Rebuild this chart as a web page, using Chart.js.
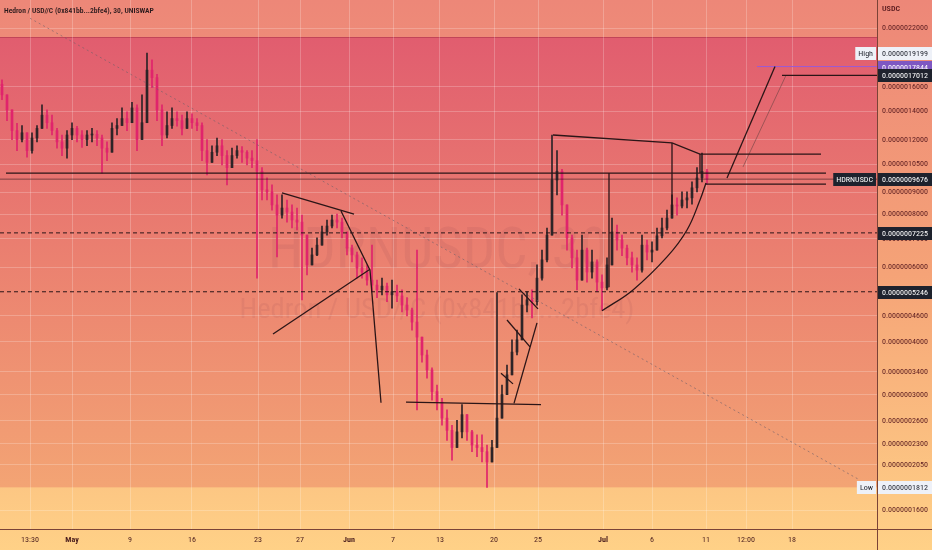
<!DOCTYPE html>
<html>
<head>
<meta charset="utf-8">
<script src="https://cdn.jsdelivr.net/npm/chart.js@4.4.0/dist/chart.umd.min.js"></script>
<style>
  html, body { margin: 0; padding: 0; background: #f5a377; }
  #c { display: block; }
</style>
</head>
<body>
<canvas id="c" width="932" height="550"></canvas>
<script>
// prices are in units of 1e-7 USDC, one candle per slot
const firstOpen = 16.2;
const highs = [
  16.6, 15.3, 13.7, 13.1, 12.95, 12.3, 12.45, 12.95, 14.5, 14.1,
  13.7, 12.75, 12.3, 12.6, 13.15, 12.9, 12.6, 12.6, 12.75, 12.6,
  12.3, 11.85, 13.15, 13.45, 14.25, 13.95, 14.7, 14.5, 15.3, 19.2,
  18.5, 17.1, 14.5, 13.95, 14.25, 13.95, 13.7, 13.95, 13.8, 13.45,
  13.15, 12.0, 11.6, 12.1, 12.0, 11.3, 11.45, 11.6, 11.55, 11.3,
  11.3, 12.0, 10.3, 9.74, 9.38, 8.88, 8.88, 8.64, 8.41, 8.27,
  7.96, 6.95, 6.65, 7.03, 7.50, 7.75, 7.96, 8.0, 7.83, 7.14,
  6.76, 6.51, 6.31, 6.07, 6.76, 5.59, 5.65, 5.50, 5.59, 5.44,
  5.30, 5.08, 4.80, 6.58, 4.04, 3.82, 3.47, 3.16, 2.94, 2.76,
  2.54, 2.61, 2.84, 2.61, 2.47, 2.41, 2.41, 2.28, 2.34, 5.22,
  3.16, 3.52, 4.04, 4.26, 5.16, 5.25, 5.30, 6.07, 6.58, 7.42,
  12.3, 11.3, 10.2, 8.41, 7.14, 6.58, 7.14, 6.65, 6.58, 6.24,
  5.75, 6.31, 7.83, 7.54, 7.14, 6.76, 6.51, 6.31, 7.14, 6.95,
  6.88, 7.42, 7.83, 8.18, 8.88, 8.74, 9.03, 9.03, 9.53, 10.3,
  11.15, 10.2
];
const lows = [
  14.9, 13.3, 12.0, 11.3, 11.85, 10.9, 11.15, 11.85, 12.95, 12.75,
  12.3, 11.45, 11.0, 10.85, 12.0, 11.85, 11.5, 11.6, 11.85, 11.6,
  10.0, 10.7, 11.3, 12.3, 12.95, 12.6, 13.3, 11.3, 12.6, 14.9,
  15.9, 13.3, 11.6, 12.1, 12.75, 12.9, 12.3, 12.75, 12.75, 12.6,
  10.7, 9.9, 10.7, 11.0, 10.45, 9.38, 10.3, 10.85, 10.6, 10.45,
  10.3, 5.65, 8.64, 8.64, 8.18, 6.34, 7.83, 7.66, 7.42, 7.34,
  5.02, 5.75, 6.07, 6.38, 6.76, 7.14, 7.42, 7.42, 7.03, 6.41,
  6.17, 5.65, 5.65, 5.44, 5.25, 5.08, 5.16, 4.97, 4.80, 4.97,
  4.70, 4.60, 4.26, 2.76, 3.58, 3.28, 2.91, 2.76, 2.54, 2.34,
  2.10, 2.28, 2.37, 2.34, 2.20, 2.14, 2.08, 1.812, 2.08, 2.34,
  2.76, 3.05, 3.34, 3.72, 4.10, 4.70, 4.55, 4.88, 5.59, 6.17,
  7.54, 8.88, 7.96, 6.58, 5.97, 5.30, 5.59, 5.53, 5.65, 5.25,
  4.75, 5.30, 6.17, 6.58, 6.38, 6.07, 5.84, 5.59, 5.84, 6.24,
  6.17, 6.65, 7.03, 7.34, 7.96, 7.96, 8.27, 8.27, 8.45, 9.03,
  9.53, 9.43
];
const closes = [
  15.3, 14.1, 12.6, 12.0, 12.45, 11.3, 12.1, 12.75, 13.7, 13.15,
  12.6, 11.85, 11.45, 12.3, 12.75, 12.3, 12.0, 12.3, 12.35, 12.1,
  11.45, 11.2, 12.75, 12.95, 13.45, 13.15, 14.25, 12.0, 13.15, 17.5,
  16.8, 14.1, 12.3, 12.95, 13.45, 13.3, 12.75, 13.45, 13.15, 12.95,
  11.3, 10.6, 11.2, 11.6, 11.0, 10.3, 11.0, 11.3, 11.2, 10.85,
  10.7, 10.1, 9.13, 9.03, 8.41, 7.96, 8.27, 8.09, 7.75, 7.66,
  7.14, 6.07, 6.41, 6.76, 7.26, 7.50, 7.75, 7.66, 7.26, 6.65,
  6.41, 5.97, 5.84, 5.59, 5.44, 5.30, 5.41, 5.16, 5.25, 5.13,
  4.88, 4.75, 4.45, 4.10, 3.72, 3.43, 3.05, 2.88, 2.64, 2.47,
  2.25, 2.45, 2.69, 2.45, 2.28, 2.25, 2.20, 2.08, 2.25, 2.64,
  3.00, 3.34, 3.78, 4.04, 4.88, 5.02, 4.97, 5.65, 6.24, 7.14,
  9.63, 10.1, 8.41, 7.03, 6.31, 5.59, 6.58, 5.84, 6.17, 5.53,
  5.36, 6.07, 7.26, 6.95, 6.65, 6.31, 6.07, 5.90, 6.76, 6.51,
  6.58, 7.11, 7.42, 7.83, 8.41, 8.36, 8.64, 8.74, 9.23, 9.74,
  10.1, 9.676
];

// axis ticks
const timeLabels = ['13:30', 'May', '9', '16', '23', '27', 'Jun', '7', '13', '20', '25', 'Jul', '6', '11', '12:00', '18'];
const timeTickIdx = [5.6, 14.0, 25.6, 38.0, 51.2, 59.6, 69.4, 78.2, 87.6, 98.4, 107.2, 120.2, 130.0, 140.8, 148.8, 158.0];
const priceTicks = [22, 16, 14, 12, 10.5, 9, 8, 7, 6, 4.6, 4, 3.4, 3, 2.6, 2.3, 2.05, 1.6];

// price labels on the axis
const markerValues = [19.199, 17.844, 17.012, 9.676, 7.225, 5.246, 1.812];
const markerTags = ['High', '', '', 'HDRNUSDC', '', '', 'Low'];

// drawn objects, [candle slot, price]
const trendLines = [
  [[0.8, 10.0], [164.8, 10.0]],
  [[110.2, 12.3], [134, 11.78], [139.6, 11.09], [163.8, 11.09]],
  [[134, 11.78], [134, 7.96]],
  [[139.6, 11.09], [139.6, 10.0]],
  [[121.4, 10.0], [121.4, 5.38]],
  [[140.6, 9.42], [164.8, 9.42]],
  [[145, 9.74], [154.6, 17.844]],
  [[56, 8.98], [70.4, 8.0]],
  [[67.8, 8.14], [73.6, 5.90], [75.8, 2.87]],
  [[54.2, 4.17], [73.6, 5.93]],
  [[80.8, 2.88], [107.8, 2.84]],
  [[102.4, 2.86], [107, 4.43]],
  [[101, 4.50], [105.6, 3.89]],
  [[99.8, 3.37], [102.2, 3.18]],
  [[103.4, 5.33], [107.2, 4.78]],
  [[156, 17.012], [175, 17.012]]
];
const thinLine = [[148.2, 10.34], [156.8, 17.012]];
const purpleLine = [[151, 17.844], [175, 17.844]];
const arcLine = [[120, 4.73], [126.2, 5.30], [133, 6.34], [137, 7.34], [139.6, 8.64], [140.8, 9.48]];
const dottedLine = [[5.6, 23.2], [171.6, 1.885]];
const dashedLevels = [7.225, 5.246];
const lastPrice = 9.676;
const zoneTop = 20.95;
const zoneBottom = 1.812;

const NARROW = "'Liberation Sans Narrow', 'Roboto Condensed', 'DejaVu Sans Condensed', sans-serif";
const mctx = document.createElement('canvas').getContext('2d');
function fitSize(text, weight, family, width) {
  mctx.font = weight + ' 20px ' + family;
  return 20 * width / mctx.measureText(text).width;
}
const axisSize = fitSize('0.0000022000', 'normal', NARROW, 46);
const fmt = v => (v * 1e-7).toFixed(10);

const opens = [firstOpen].concat(closes.slice(0, -1));
const upColor = '#2d2427';
const downColor = '#e0246c';
const candleColors = closes.map((c, i) => c >= opens[i] ? upColor : downColor);
const wickData = closes.map((c, i) => ({ x: i, y: [Math.min(lows[i], opens[i], c), Math.max(highs[i], opens[i], c)] }));
const bodyData = closes.map((c, i) => ({ x: i, y: [opens[i], c] }));

function lineDs(pts, color, width, extra) {
  return Object.assign({
    type: 'line',
    data: pts.map(p => ({ x: p[0], y: p[1] })),
    borderColor: color,
    borderWidth: width,
    pointRadius: 0,
    fill: false,
    tension: 0,
    order: 0
  }, extra || {});
}

const datasets = [];
trendLines.forEach(t => datasets.push(lineDs(t, '#2b1517', 1.3)));
datasets.push(lineDs(thinLine, 'rgba(120,70,70,0.65)', 1));
datasets.push(lineDs(purpleLine, '#9b5bd4', 1));
datasets.push(lineDs(arcLine, '#2b1517', 1.3, { tension: 0.4 }));
datasets.push(lineDs(dottedLine, 'rgba(110,95,105,0.6)', 1, { borderDash: [2, 3] }));
dashedLevels.forEach(v => datasets.push(lineDs([[-0.4, v], [175, v]], '#2b1517', 1, { borderDash: [4, 3] })));
datasets.push(lineDs([[-0.4, lastPrice], [175, lastPrice]], 'rgba(40,20,25,0.55)', 1));
datasets.push({
  type: 'bar', data: bodyData, backgroundColor: candleColors, barThickness: 2,
  grouped: false, borderWidth: 0, minBarLength: 1, order: 1
});
datasets.push({
  type: 'bar', data: wickData, backgroundColor: candleColors, barThickness: 1,
  grouped: false, borderWidth: 0, order: 2
});

const bgPlugin = {
  id: 'bg',
  beforeDraw(chart) {
    const { ctx, chartArea: ca, scales: { y } } = chart;
    ctx.save();
    let g = ctx.createLinearGradient(0, 0, 0, 550);
    g.addColorStop(0, '#ed8778');
    g.addColorStop(0.5, '#f5a377');
    g.addColorStop(1, '#ffd187');
    ctx.fillStyle = g;
    ctx.fillRect(0, 0, 932, 550);

    const top = y.getPixelForValue(zoneTop);
    const bot = y.getPixelForValue(zoneBottom);
    g = ctx.createLinearGradient(0, top, 0, bot);
    g.addColorStop(0, '#e15d6f');
    g.addColorStop(0.5, '#eb8170');
    g.addColorStop(1, '#f3a474');
    ctx.fillStyle = g;
    ctx.fillRect(ca.left, top, ca.right - ca.left, bot - top);
    ctx.strokeStyle = 'rgba(170,50,70,0.55)';
    ctx.lineWidth = 1;
    ctx.beginPath();
    ctx.moveTo(ca.left, Math.round(top) + 0.5);
    ctx.lineTo(ca.right, Math.round(top) + 0.5);
    ctx.stroke();

    // watermark
    ctx.fillStyle = 'rgba(90,30,50,0.07)';
    ctx.textAlign = 'center';
    ctx.textBaseline = 'alphabetic';
    const w1 = 'HDRNUSDC, 30';
    ctx.font = fitSize(w1, 'normal', NARROW, 340) + 'px ' + NARROW;
    ctx.fillText(w1, 438, 268);
    const w2 = 'Hedron / USD//C (0x841bb...2bfe4)';
    ctx.font = fitSize(w2, 'normal', NARROW, 395) + 'px ' + NARROW;
    ctx.fillText(w2, 437, 318);
    ctx.restore();
  }
};

const labelPlugin = {
  id: 'labels',
  afterDraw(chart) {
    const { ctx, chartArea: ca, scales: { y } } = chart;
    ctx.save();
    ctx.strokeStyle = '#7a4337';
    ctx.lineWidth = 1;
    ctx.beginPath();
    ctx.moveTo(ca.right + 0.5, 0);
    ctx.lineTo(ca.right + 0.5, 550);
    ctx.moveTo(0, ca.bottom + 0.5);
    ctx.lineTo(932, ca.bottom + 0.5);
    ctx.stroke();

    ctx.textBaseline = 'middle';
    ctx.font = axisSize + 'px ' + NARROW;
    const styles = [
      ['#eef1f8', '#1e222d'], ['#7e57c2', '#ffffff'], ['#1e222d', '#ffffff'],
      ['#1e222d', '#ffffff'], ['#1e222d', '#ffffff'], ['#1e222d', '#ffffff'],
      ['#eef1f8', '#1e222d']
    ];
    markerValues.forEach((v, i) => {
      const py = Math.round(y.getPixelForValue(v));
      const [bg, fg] = styles[i];
      ctx.fillStyle = bg;
      ctx.fillRect(ca.right + 1, py - 6, 932 - ca.right - 1, 13);
      ctx.fillStyle = fg;
      ctx.textAlign = 'left';
      ctx.fillText(fmt(v), ca.right + 5, py + 0.5);
      const tag = markerTags[i];
      if (tag) {
        const tw = ctx.measureText(tag).width + 6;
        ctx.fillStyle = bg;
        ctx.fillRect(ca.right - tw - 1, py - 6, tw, 13);
        ctx.fillStyle = fg;
        ctx.textAlign = 'right';
        ctx.fillText(tag, ca.right - 4, py + 0.5);
      }
    });

    ctx.textAlign = 'left';
    ctx.fillStyle = '#5a1b1f';
    ctx.font = '600 ' + axisSize + 'px ' + NARROW;
    ctx.fillText('USDC', ca.right + 5, 9);

    const title = 'Hedron / USD//C (0x841bb...2bfe4), 30, UNISWAP';
    ctx.fillStyle = '#2a1a1c';
    ctx.font = '600 ' + fitSize(title, '600', NARROW, 150) + 'px ' + NARROW;
    ctx.fillText(title, 4, 11);
    ctx.restore();
  }
};

const gridColor = 'rgba(255,255,255,0.22)';
const ctx = document.getElementById('c').getContext('2d');
const chart = new Chart(ctx, {
  type: 'bar',
  data: { datasets: datasets },
  options: {
    responsive: false,
    animation: false,
    devicePixelRatio: 1,
    events: [],
    layout: { padding: 0 },
    plugins: { legend: { display: false }, tooltip: { enabled: false } },
    scales: {
      x: {
        type: 'linear',
        min: -0.4,
        max: 175,
        offset: false,
        grid: { color: gridColor, drawTicks: false, offset: false },
        border: { display: false },
        ticks: {
          autoSkip: false,
          maxRotation: 0,
          minRotation: 0,
          padding: 6,
          color: '#4a1d1d',
          font: c => ({
            family: NARROW,
            size: axisSize,
            weight: ['May', 'Jun', 'Jul'].includes(timeLabels[c.index]) ? 'bold' : 'normal'
          }),
          callback: (v, i) => timeLabels[i]
        },
        afterBuildTicks: s => { s.ticks = timeTickIdx.map(v => ({ value: v })); },
        afterFit: s => { s.height = 21; s.paddingLeft = 0; s.paddingRight = 0; }
      },
      y: {
        type: 'logarithmic',
        position: 'right',
        min: 1.445,
        max: 25.62,
        grid: { color: gridColor, drawTicks: false },
        border: { display: false },
        ticks: {
          autoSkip: false,
          padding: 5,
          color: '#5a1b1f',
          font: { family: NARROW, size: axisSize },
          callback: v => fmt(v)
        },
        afterBuildTicks: s => { s.ticks = priceTicks.map(v => ({ value: v })); },
        afterFit: s => { s.width = 55; s.paddingTop = 0; s.paddingBottom = 0; }
      }
    }
  },
  plugins: [bgPlugin, labelPlugin]
});
</script>
</body>
</html>
